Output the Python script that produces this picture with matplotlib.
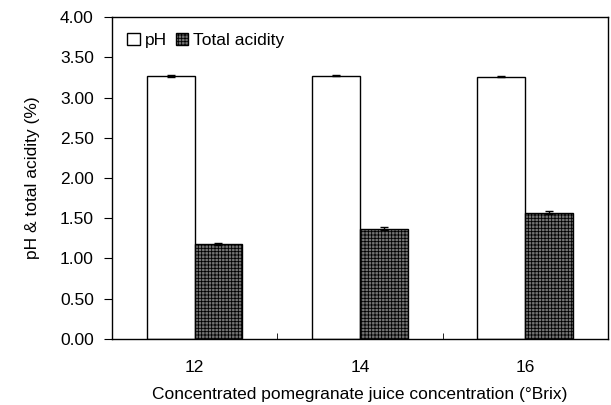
import matplotlib
matplotlib.use("Agg")
import matplotlib.pyplot as plt
import numpy as np

plt.rcParams['font.family'] = ['Liberation Sans', 'DejaVu Sans']
plt.rcParams['hatch.linewidth'] = 0.6

conc = ['12', '14', '16']
ph = [3.27, 3.27, 3.26]
ph_err = [0.01, 0.005, 0.01]
acidity = [1.18, 1.37, 1.57]
acidity_err = [0.015, 0.02, 0.015]

fig = plt.figure(figsize=(6.11, 4.05), dpi=100)
ax = fig.add_axes([0.183, 0.163, 0.812, 0.795])

x = np.arange(len(conc))
w = 0.29
fs = 12.5
ax.bar(x - w/2, ph, w, yerr=ph_err, color='white', edgecolor='black', linewidth=1,
       error_kw=dict(ecolor='black', capsize=3, elinewidth=1), label='pH')
ax.bar(x + w/2, acidity, w, yerr=acidity_err, color='#737373', edgecolor='black', linewidth=1,
       hatch='+++++', error_kw=dict(ecolor='black', capsize=3, elinewidth=1), label='Total acidity')

ax.set_xlim(-0.5, 2.5)
ax.set_ylim(0, 4)
ax.set_yticks(np.arange(0, 4.01, 0.5))
ax.set_yticklabels([f'{v:.2f}' for v in np.arange(0, 4.01, 0.5)])
ax.set_xticks(x)
ax.set_xticklabels(conc)
ax.set_xticks([0.5, 1.5], minor=True)
ax.tick_params(axis='x', which='major', length=0, pad=15, labelsize=fs)
ax.tick_params(axis='x', which='minor', direction='in', length=4)
ax.tick_params(axis='y', direction='out', length=6, pad=7, labelsize=fs)
for s in ax.spines.values():
    s.set_linewidth(1)

ax.set_xlabel('Concentrated pomegranate juice concentration (°Brix)', fontsize=fs, labelpad=9)
ax.set_ylabel('pH & total acidity (%)', fontsize=fs, labelpad=14)

ax.legend(loc='upper left', ncol=2, frameon=False, fontsize=fs, handlelength=0.7,
          handleheight=0.7, handletextpad=0.3, columnspacing=0.5,
          bbox_to_anchor=(0.0, 1.0), borderaxespad=0.5)

fig.savefig('out.png', dpi=100)
